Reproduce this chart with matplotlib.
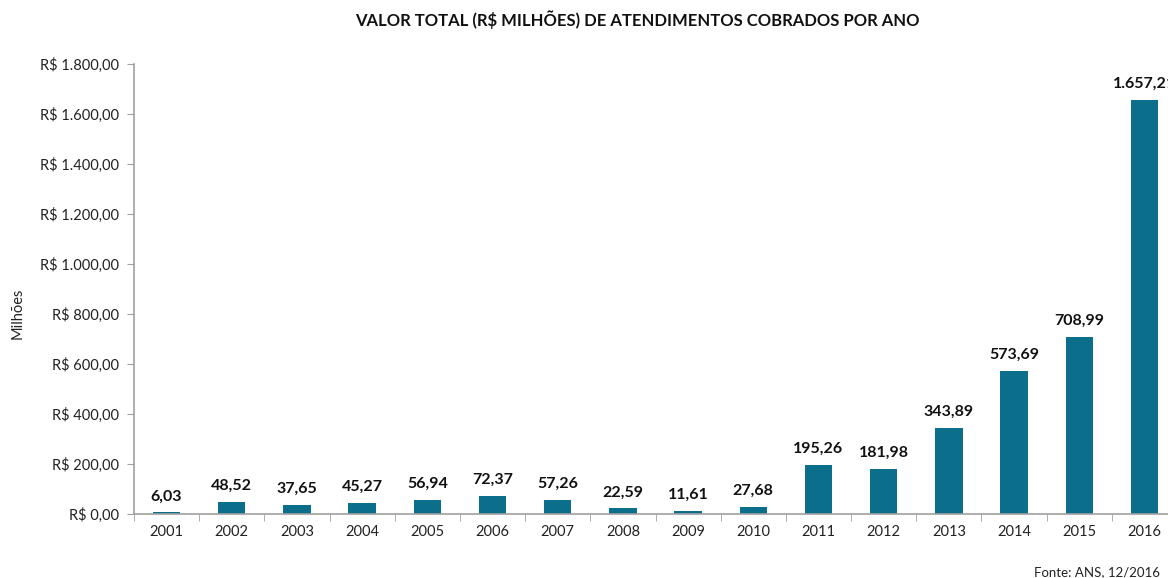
import matplotlib
matplotlib.use("Agg")
import matplotlib.pyplot as plt
from matplotlib.ticker import FuncFormatter, FixedLocator

years = ["2001", "2002", "2003", "2004", "2005", "2006", "2007", "2008",
         "2009", "2010", "2011", "2012", "2013", "2014", "2015", "2016"]
values = [6.03, 48.52, 37.65, 45.27, 56.94, 72.37, 57.26, 22.59,
          11.61, 27.68, 195.26, 181.98, 343.89, 573.69, 708.99, 1657.21]
title = "VALOR TOTAL (R$ MILHÕES) DE ATENDIMENTOS COBRADOS POR ANO"
ylabel = "Milhões"
source = "Fonte: ANS, 12/2016"

plt.rcParams['font.family'] = ['Lato', 'DejaVu Sans']

def br(v, dec=2):
    s = f"{v:,.{dec}f}"
    return s.replace(",", "X").replace(".", ",").replace("X", ".")

fig = plt.figure(figsize=(11.68, 5.78), dpi=100)
ax = fig.add_axes([134/1168, 64/578, 1043/1168, 450/578])

x = list(range(len(years)))
color = "#0B6E8A"
bars = ax.bar(x, values, width=0.42, color=color, zorder=2)
for xi, v in zip(x, values):
    ax.text(xi, v + 36, br(v), ha="center", va="bottom", fontsize=11.5,
            fontweight="bold", color="#111111")

ax.set_xlim(-0.5, len(years) - 0.5)
ax.set_ylim(0, 1800)
ax.set_yticks(range(0, 1801, 200))
ax.yaxis.set_major_formatter(FuncFormatter(lambda v, p: "R$ " + br(v)))
ax.set_xticks(x)
ax.set_xticklabels(years)
ax.xaxis.set_minor_locator(FixedLocator([i - 0.5 for i in range(len(years) + 1)]))
ax.tick_params(axis="x", which="major", length=0, pad=8, labelsize=10.5, labelcolor="#222222")
ax.tick_params(axis="x", which="minor", length=5, color="#A0A0A0", direction="out")
ax.tick_params(axis="y", length=5, color="#A0A0A0", labelsize=10.5, labelcolor="#222222", pad=6)

for s in ["top", "right"]:
    ax.spines[s].set_visible(False)
for s in ["left", "bottom"]:
    ax.spines[s].set_color("#A0A0A0")
    ax.spines[s].set_linewidth(1.2)

fig.text(637/1168, 1 - 20/578, title, ha="center", va="center", fontsize=12,
         fontweight="bold", color="#111111")
fig.text(18/1168, 1 - 313/578, ylabel, ha="center", va="center", rotation=90,
         fontsize=10.5, color="#222222")
fig.text(1160/1168, 1 - 572/578, source, ha="right", va="center", fontsize=9.5,
         color="#222222")

fig.savefig("out.png", dpi=100)
